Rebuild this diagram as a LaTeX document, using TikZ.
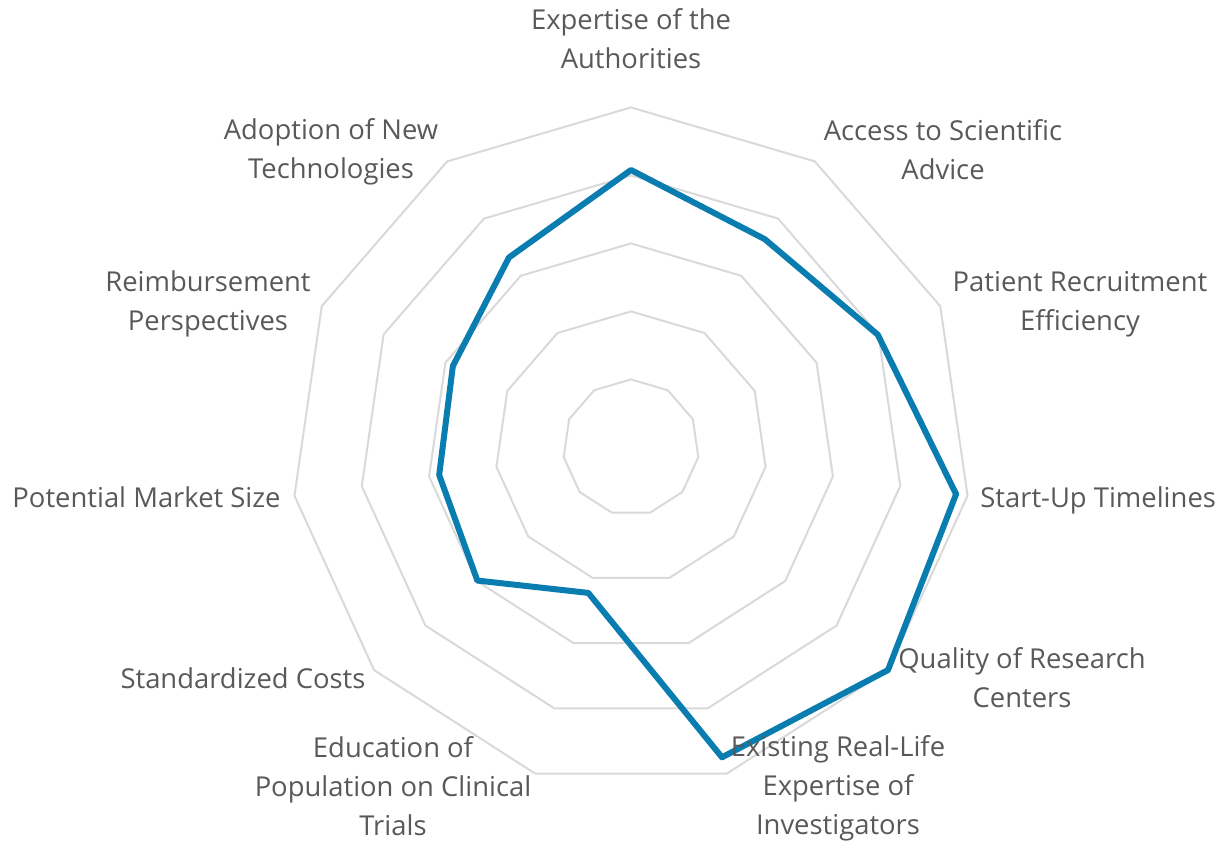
\documentclass[tikz,border=0pt]{standalone}
\usepackage{fontspec}
\setmainfont{Open Sans}
\usetikzlibrary{calc}
\definecolor{gridgray}{HTML}{D9D9D9}
\definecolor{labelgray}{HTML}{595959}
\definecolor{lineblue}{HTML}{0A7DB0}

\begin{document}
\begin{tikzpicture}[x=0.5pt,y=0.5pt,
		lbl/.style={text=labelgray,font=\fontsize{13.7}{19.5}\selectfont,align=center,inner sep=0pt}]
		\useasboundingbox (0,0) rectangle (1225,-843);
		\coordinate (c) at (631,-447.4);
		% rings
		\foreach \r in {1,...,5}{
			\draw[gridgray,line width=1pt,line join=round] ($(c)+(90:68*\r)$)
			\foreach \k in {1,...,10}{ -- ($(c)+(90-\k*360/11:68*\r)$)} -- cycle;
		};
		% series
		\foreach \v [count=\i from 0] in {4.08,3.64,3.99,4.83,5.0,4.75,2.23,2.99,2.85,2.88,3.32}{
			\coordinate (p\i) at ($(c)+(90-\i*360/11:68*\v)$);
		};
		\draw[lineblue,line width=3pt,line join=round] (p0)
		\foreach \i in {1,...,10}{ -- (p\i)} -- cycle;
		% labels
		\node[lbl] (l0) at (631,-39) {Expertise of the\\Authorities};
		\node[lbl] (l1) at (943,-150) {Access to Scientific\\Advice};
		\node[lbl] (l2) at (1080,-304) {Patient Recruitment\\Efficiency};
		\node[lbl,anchor=west] (l3) at (980,-500) {Start-Up Timelines};
		\node[lbl] (l4) at (1022,-678) {Quality of Research\\Centers};
		\node[lbl] (l5) at (838,-788.5) {Existing Real-Life\\Expertise of\\Investigators};
		\node[lbl] (l6) at (393,-786) {Education of\\Population on Clinical\\Trials};
		\node[lbl] (l7) at (243,-678) {Standardized Costs};
		\node[lbl,anchor=east] (l8) at (281,-497) {Potential Market Size};
		\node[lbl] (l9) at (208,-304) {Reimbursement\\Perspectives};
		\node[lbl] (l10) at (331,-152) {Adoption of New\\Technologies};
	\end{tikzpicture}
\end{document}
